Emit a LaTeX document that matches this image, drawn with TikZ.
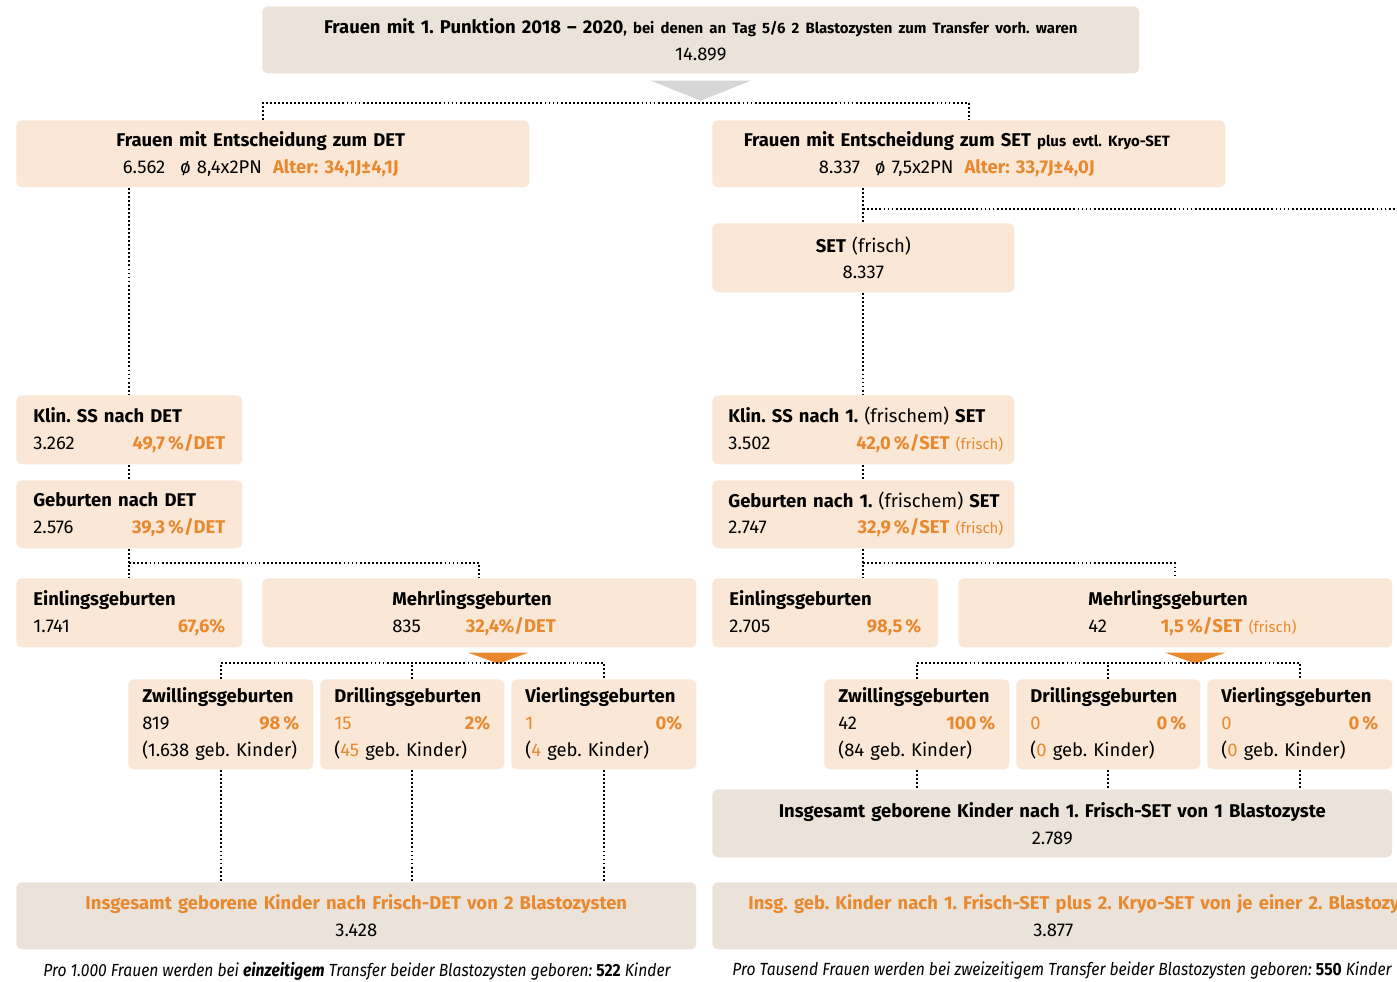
\documentclass[tikz,border=0pt]{standalone}
\usepackage{fontspec}
\setmainfont{Fira Sans}
\newfontfamily\notefont{Fira Sans}[FakeStretch=0.89]
\usetikzlibrary{calc}
\frenchspacing

\definecolor{peach}{HTML}{FAE7D6}
\definecolor{stone}{HTML}{EBE3D9}
\definecolor{accent}{HTML}{E8892F}
\definecolor{arrowgrey}{HTML}{D6D6D6}

\newcommand\acc[1]{\textcolor{accent}{\textbf{#1}}}
\newcommand\sm{\fontsize{8.5}{10}\selectfont}
\newcommand\frs{{\color{accent}\sm(frisch)}}
\newcommand\gap{\hskip 0pt plus 1fill\relax}
\newcommand\nudgeleft{\kern0.48cm\null}

\tikzset{
  card/.style={fill=peach, rounded corners=3pt, anchor=north west,
    inner xsep=0.34cm, inner ysep=0pt, align=left,
    font=\fontsize{10.5}{15.3}\selectfont\frenchspacing},
  plain/.style={card, fill=stone, align=center},
  multi/.style={card, inner xsep=0.28cm, minimum height=1.8cm},
  link/.style={line width=1.05pt, dash pattern=on 1.05pt off 1.25pt},
  note/.style={font=\notefont\itshape\fontsize{10}{12}\selectfont\frenchspacing}
}

\begin{document}
\begin{tikzpicture}[x=0.02cm, y=-0.02cm]
\useasboundingbox (0,0) rectangle (1397,981);
\clip (0,0) rectangle (1397,981);

% start
\node[plain, text width=16.86cm, minimum height=1.34cm] (top) at (262,6)
  {\textbf{Frauen mit 1. Punktion 2018 -- 2020}{\sm\bfseries, bei denen an Tag 5/6 2 Blastozysten zum Transfer vorh. waren}\\14.899};
\fill[arrowgrey] ($(top.south)+(-50,7)$) -- ($(top.south)+(50,7)$) -- ($(top.south)+(0,27)$) -- cycle;
\coordinate (split) at ($(top.south)+(0,29)$);

% DET side
\node[plain, fill=peach, text width=9.58cm, minimum height=1.34cm] (detw) at (16,120)
  {\textbf{Frauen mit Entscheidung zum DET}\nudgeleft\\6.562\hspace{0.8em}ø 8,4x2PN\hspace{0.6em}\acc{Alter: 34,1J±4,1J}\nudgeleft};
\node[card, text width=3.84cm, minimum height=1.38cm] (detklin) at (16,395)
  {\textbf{Klin. SS nach DET}\\3.262\gap\acc{49,7\,\%/DET}};
\node[card, text width=3.84cm, minimum height=1.36cm] (detgeb) at (16,480)
  {\textbf{Geburten nach DET}\\2.576\gap\acc{39,3\,\%/DET}};
\node[card, text width=3.84cm, minimum height=1.38cm] (dete) at (16,578)
  {\textbf{Einlingsgeburten}\\1.741\gap\acc{67,6\%}};
\node[card, text width=8.0cm, minimum height=1.38cm] (detm) at (262,578)
  {\hspace*{2.26cm}\textbf{Mehrlingsgeburten}\\\hspace*{2.26cm}835\hspace{0.9cm}\acc{32,4\%/DET}};
\node[multi, text width=3.14cm] (dzw) at (128,679)
  {\textbf{Zwillingsgeburten}\\819\gap\acc{98\,\%}\\(1.638 geb. Kinder)};
\node[multi, text width=3.12cm] (ddr) at (320,679)
  {\textbf{Drillingsgeburten}\\\textcolor{accent}{15}\gap\acc{2\%}\\(\textcolor{accent}{45} geb. Kinder)};
\node[multi, text width=3.14cm] (dvi) at (511,679)
  {\textbf{Vierlingsgeburten}\\\textcolor{accent}{1}\gap\acc{0\%}\\(\textcolor{accent}{4} geb. Kinder)};
\node[plain, text width=12.92cm, minimum height=1.34cm] (dettot) at (16,882)
  {\acc{Insgesamt geborene Kinder nach Frisch-DET von 2 Blastozysten}\\3.428};
\fill[accent] ($(detm.south)+(-11,5)$) -- ($(detm.south)+(49,5)$) -- ($(detm.south)+(19,16)$) -- cycle;

% SET side
\node[plain, fill=peach, text width=9.58cm, minimum height=1.34cm] (setw) at (712,120)
  {\textbf{Frauen mit Entscheidung zum SET} {\sm\bfseries plus evtl. Kryo-SET}\nudgeleft\\8.337\hspace{0.8em}ø 7,5x2PN\hspace{0.6em}\acc{Alter: 33,7J±4,0J}\nudgeleft};
\node[plain, fill=peach, text width=5.36cm, minimum height=1.38cm] (setf) at (712,223)
  {\textbf{SET} (frisch)\\8.337};
\node[card, inner xsep=0.22cm, text width=5.6cm, minimum height=1.38cm] (setklin) at (712,395)
  {\hspace*{0.1cm}\textbf{Klin. SS nach 1.} (frischem) \textbf{SET}\\\hspace*{0.1cm}3.502\gap\acc{42,0\,\%/SET} \frs};
\node[card, inner xsep=0.22cm, text width=5.6cm, minimum height=1.36cm] (setgeb) at (712,480)
  {\hspace*{0.1cm}\textbf{Geburten nach 1.} (frischem) \textbf{SET}\\\hspace*{0.1cm}2.747\gap\acc{32,9\,\%/SET} \frs\hspace*{0.2cm}};
\node[card, text width=3.84cm, minimum height=1.38cm] (sete) at (712,578)
  {\textbf{Einlingsgeburten}\\2.705\gap\acc{98,5\,\%}};
\node[card, text width=8.0cm, minimum height=1.38cm] (setm) at (958,578)
  {\hspace*{2.26cm}\textbf{Mehrlingsgeburten}\\\hspace*{2.26cm}42\hspace{1.08cm}\acc{1,5\,\%/SET} \frs};
\node[multi, text width=3.14cm] (szw) at (824,679)
  {\textbf{Zwillingsgeburten}\\42\gap\acc{100\,\%}\\(84 geb. Kinder)};
\node[multi, text width=3.12cm] (sdr) at (1016,679)
  {\textbf{Drillingsgeburten}\\\textcolor{accent}{0}\gap\acc{0\,\%}\\(\textcolor{accent}{0} geb. Kinder)};
\node[multi, text width=3.14cm] (svi) at (1207,679)
  {\textbf{Vierlingsgeburten}\\\textcolor{accent}{0}\gap\acc{0\,\%}\\(\textcolor{accent}{0} geb. Kinder)};
\node[plain, text width=12.92cm, minimum height=1.36cm] (settot) at (712,789)
  {\textbf{Insgesamt geborene Kinder nach 1. Frisch-SET von 1 Blastozyste}\\2.789};
\node[card, fill=stone, inner xsep=0.72cm, text width=14.0cm, minimum height=1.34cm] (kryotot) at (712,882)
  {\acc{Insg. geb. Kinder nach 1. Frisch-SET plus 2. Kryo-SET von je einer 2. Blastozyste}\\\hspace*{5.7cm}3.877};
\fill[accent] ($(setm.south)+(-10,5)$) -- ($(setm.south)+(50,5)$) -- ($(setm.south)+(20,16)$) -- cycle;
\coordinate (kryo) at (1400,209);

% connectors
\draw[link] ($(detw.north)+(-10,0)$) |- (split) -| (setw.north);
\draw[link] (detw.south -| detklin.north) -- (detklin.north);
\draw[link] (detklin) -- (detgeb);
\draw[link] (detgeb.south) -- (dete.north);
\draw[link] ($(detgeb.south)!.5!(dete.north)$) -| (detm.north);
\draw[link] (dzw.north) -- ++(0,-16) -| (dvi.north);
\draw[link] (ddr.north) -- ++(0,-16);
\draw[link] ($(dete.south)+(-41,0)$) -- ($(dete.south)+(-41,0)$ |- dettot.north);
\foreach \n in {dzw, ddr, dvi}
  \draw[link] (\n.south) -- (\n.south |- dettot.north);

\draw[link] (setw.south -| setf.north) -- (setf.north);
\draw[link] (setf.north |- kryo) -- (kryo);
\draw[link] (setf.south) -- (setklin.north -| setf.south);
\draw[link] (setklin.south -| setf.south) -- (setgeb.north -| setf.south);
\draw[link] (setgeb.south -| setf.south) -- (sete.north -| setf.south);
\draw[link] ($(setgeb.south -| setf.south)!.5!(sete.north -| setf.south)$) -| (setm.north);
\draw[link] (szw.north) -- ++(0,-16) -| (svi.north);
\draw[link] (sdr.north) -- ++(0,-16);
\draw[link] ($(sete.south)+(-39,0)$) -- ($(sete.south)+(-39,0)$ |- settot.north);
\foreach \n in {szw, sdr, svi}
  \draw[link] (\n.south) -- (\n.south |- settot.north);

% notes
\node[note] (detnote) at (357,971)
  {Pro 1.000 Frauen werden bei \textbf{einzeitigem} Transfer beider Blastozysten geboren: \textbf{\upshape 522} Kinder};
\node[note] (setnote) at (1062,971)
  {Pro Tausend Frauen werden bei zweizeitigem Transfer beider Blastozysten geboren: \textbf{\upshape 550} Kinder};
\end{tikzpicture}
\end{document}
